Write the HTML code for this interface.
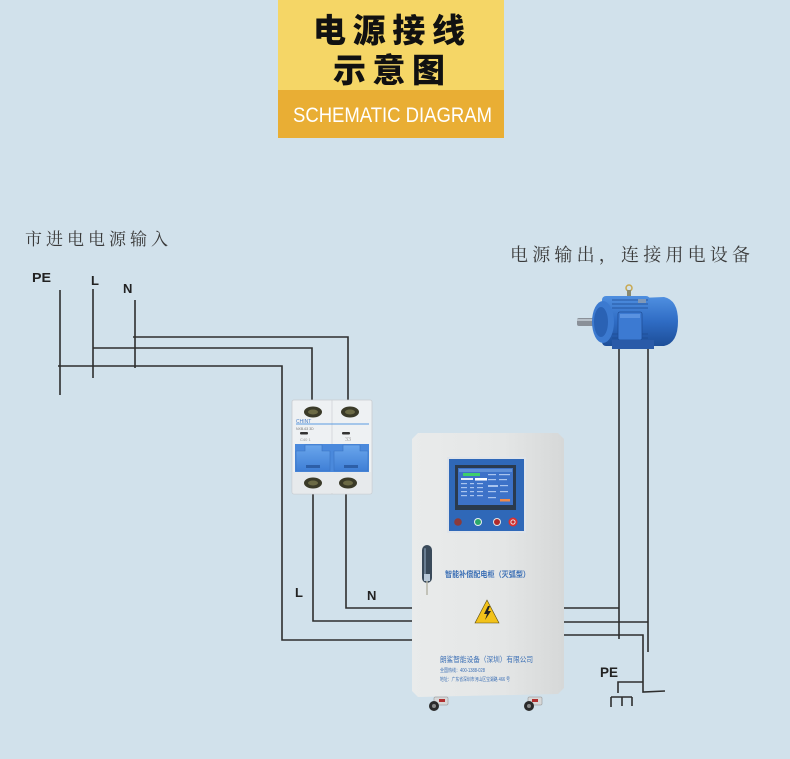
<!DOCTYPE html>
<html><head><meta charset="utf-8"><style>
html,body{margin:0;padding:0;background:#d1e1eb;}
svg{display:block;}
.cn{font-family:"Liberation Sans","Noto Sans CJK SC",sans-serif;}
.sr{font-family:"Liberation Serif","Noto Serif CJK SC",serif;}
</style></head><body>
<svg width="790" height="759" viewBox="0 0 790 759" xmlns="http://www.w3.org/2000/svg">
<defs>
<linearGradient id="cab" x1="0" x2="1" y1="0" y2="0">
<stop offset="0" stop-color="#e9ebeb"/><stop offset="0.6" stop-color="#e4e6e6"/><stop offset="1" stop-color="#d6d8d8"/>
</linearGradient>
<linearGradient id="mot" x1="0" x2="0" y1="0" y2="1">
<stop offset="0" stop-color="#4f8fe0"/><stop offset="0.5" stop-color="#2f6cc4"/><stop offset="1" stop-color="#1d4e98"/>
</linearGradient>
<linearGradient id="brk" x1="0" x2="0" y1="0" y2="1">
<stop offset="0" stop-color="#6aa6ec"/><stop offset="1" stop-color="#3f7fd6"/>
</linearGradient>
</defs>
<rect width="790" height="759" fill="#d1e1eb"/>

<!-- title -->
<rect x="278" y="0" width="226" height="90" fill="#f5d666"/>
<rect x="278" y="90" width="226" height="48" fill="#e9ae34"/>
<text class="cn" x="313" y="42" font-size="33" font-weight="900" fill="#111" textLength="152" lengthAdjust="spacing">电源接线</text>
<text class="cn" x="333" y="82" font-size="33" font-weight="900" fill="#111" textLength="112" lengthAdjust="spacing">示意图</text>
<text x="293" y="122" font-family="Liberation Sans, sans-serif" font-size="21" fill="#fff" textLength="199" lengthAdjust="spacingAndGlyphs">SCHEMATIC DIAGRAM</text>

<!-- labels -->
<text class="sr" x="25" y="245" font-size="17" fill="#3a3a3a" textLength="143" lengthAdjust="spacing">市进电电源输入</text>
<text class="sr" x="510" y="261" font-size="18" fill="#3a3a3a" textLength="240" lengthAdjust="spacing">电源输出，连接用电设备</text>
<g font-family="Liberation Sans, sans-serif" font-weight="bold" fill="#222">
<text x="32" y="282" font-size="13" textLength="19" lengthAdjust="spacingAndGlyphs">PE</text>
<text x="91" y="285" font-size="13">L</text>
<text x="123" y="293" font-size="13">N</text>
<text x="295" y="597" font-size="13">L</text>
<text x="367" y="600" font-size="13">N</text>
<text x="600" y="677" font-size="14" textLength="18" lengthAdjust="spacingAndGlyphs">PE</text>
</g>

<!-- wires -->
<g stroke="#2e2e2e" stroke-width="1.6" fill="none">
<line x1="60" y1="290" x2="60" y2="395"/>
<line x1="93" y1="289" x2="93" y2="378"/>
<line x1="135" y1="300" x2="135" y2="368"/>
<polyline points="133,337 348,337 348,402"/>
<polyline points="93,348 312,348 312,402"/>
<polyline points="58,366 282,366 282,640 412,640"/>
<polyline points="313,492 313,621 412,621"/>
<polyline points="346,492 346,608 412,608"/>
<polyline points="563,608 619,608"/>
<line x1="619" y1="348" x2="619" y2="639"/>
<polyline points="563,622 648,622"/>
<line x1="648" y1="348" x2="648" y2="652"/>
<polyline points="563,635 643,635 643,692 665,691"/>
<polyline points="643,682 618,682 618,693"/>
<line x1="611" y1="697" x2="632" y2="697"/>
<line x1="611" y1="697" x2="611" y2="707"/>
<line x1="622" y1="697" x2="622" y2="706"/>
<line x1="632" y1="697" x2="632" y2="706"/>
</g>

<!-- breaker -->
<g>
<rect x="292" y="400" width="80" height="94" rx="2" fill="#eef1f3" stroke="#c8ccd0" stroke-width="0.8"/>
<line x1="332" y1="400" x2="332" y2="494" stroke="#cfd3d6" stroke-width="0.8"/>
<ellipse cx="313" cy="412" rx="9" ry="5.5" fill="#3a3a28"/>
<ellipse cx="313" cy="412" rx="5" ry="2.5" fill="#6b6a45"/>
<ellipse cx="350" cy="412" rx="9" ry="5.5" fill="#3a3a28"/>
<ellipse cx="350" cy="412" rx="5" ry="2.5" fill="#6b6a45"/>
<line x1="296" y1="424" x2="369" y2="424" stroke="#5b9ae0" stroke-width="1"/>
<text x="296" y="423" font-family="Liberation Sans, sans-serif" font-size="5" fill="#4a7fc8">CHINT</text>
<text x="296" y="430" font-family="Liberation Sans, sans-serif" font-size="3.5" fill="#777">NXB-63  3D</text>
<rect x="300" y="432" width="8" height="2.5" rx="1" fill="#333"/>
<rect x="342" y="432" width="8" height="2.5" rx="1" fill="#333"/>
<text x="300" y="441" font-family="Liberation Sans, sans-serif" font-size="4" fill="#999">C40  1</text>
<text x="345" y="441" font-family="Liberation Serif, serif" font-size="6" fill="#999">33</text>
<rect x="295" y="444" width="74" height="28" fill="#4a89dc"/>
<path d="M296 451 L305 451 L305 445 L322 445 L322 451 L330 451 L330 471 L296 471 Z" fill="url(#brk)" stroke="#3a72c0" stroke-width="0.6"/>
<path d="M334 451 L343 451 L343 445 L360 445 L360 451 L368 451 L368 471 L334 471 Z" fill="url(#brk)" stroke="#3a72c0" stroke-width="0.6"/>
<rect x="306" y="465" width="14" height="3" fill="#2d5fa8"/>
<rect x="344" y="465" width="14" height="3" fill="#2d5fa8"/>
<rect x="293" y="472" width="78" height="21" fill="#e7eaec"/>
<ellipse cx="313" cy="483" rx="9" ry="5.5" fill="#3a3a28"/>
<ellipse cx="313" cy="483" rx="5" ry="2.5" fill="#6b6a45"/>
<ellipse cx="348" cy="483" rx="9" ry="5.5" fill="#3a3a28"/>
<ellipse cx="348" cy="483" rx="5" ry="2.5" fill="#6b6a45"/>
</g>

<!-- cabinet -->
<g>
<path d="M418 433 L558 433 L564 439 L564 688 L558 694 L418 697 L412 691 L412 439 Z" fill="url(#cab)"/>
<rect x="447" y="457" width="79" height="76" fill="#dfe4ea"/>
<rect x="449" y="459" width="75" height="72" fill="#2f68b8"/>
<rect x="455" y="465" width="61" height="45" fill="#2a3a4e"/>
<rect x="458" y="468" width="55" height="37" fill="#3d72c8"/>
<rect x="459" y="469" width="53" height="3" fill="#5f90d8"/>
<rect x="463" y="473" width="17" height="3" fill="#3fcf6a"/>
<rect x="461" y="478" width="12" height="2" fill="#e8eef8"/>
<rect x="475" y="478" width="12" height="2.5" fill="#ffffff"/>
<g fill="#a9c4ee">
<rect x="461" y="483" width="6" height="1.2"/><rect x="470" y="483" width="4" height="1.2"/><rect x="477" y="483" width="6" height="1.2"/>
<rect x="461" y="487" width="6" height="1.2"/><rect x="470" y="487" width="4" height="1.2"/><rect x="477" y="487" width="6" height="1.2"/>
<rect x="461" y="491" width="6" height="1.2"/><rect x="470" y="491" width="4" height="1.2"/><rect x="477" y="491" width="6" height="1.2"/>
<rect x="461" y="495" width="6" height="1.2"/><rect x="470" y="495" width="4" height="1.2"/><rect x="477" y="495" width="6" height="1.2"/>
<rect x="488" y="474" width="8" height="1.2"/><rect x="499" y="474" width="11" height="1.2"/>
<rect x="488" y="479" width="8" height="1.2"/><rect x="499" y="479" width="8" height="1.2"/>
<rect x="488" y="485" width="10" height="2"/><rect x="500" y="485" width="8" height="1.2"/>
<rect x="488" y="491" width="8" height="1.2"/><rect x="500" y="491" width="8" height="1.2"/>
<rect x="488" y="497" width="8" height="1.2"/>
</g>
<rect x="500" y="499" width="10" height="2.5" fill="#f08a4a"/>
<circle cx="458" cy="522" r="3.8" fill="#8b3a3a"/>
<circle cx="478" cy="522" r="4" fill="#e8eef0"/><circle cx="478" cy="522" r="3" fill="#2aa86a"/>
<circle cx="497" cy="522" r="4" fill="#e0e4e8"/><circle cx="497" cy="522" r="3" fill="#b02a2a"/>
<circle cx="513" cy="522" r="4.5" fill="#d93030"/><circle cx="513" cy="522" r="2.6" fill="#e8e0e0"/><circle cx="513" cy="522" r="1.6" fill="#c82a2a"/>
<!-- handle -->
<rect x="422" y="545" width="10" height="38" rx="5" fill="#3a4a5a"/>
<rect x="424" y="548" width="2" height="28" rx="1" fill="#6a7e92"/>
<rect x="424" y="574" width="6" height="7" fill="#b8c8d8"/>
<line x1="427" y1="581" x2="427" y2="595" stroke="#b5b5a8" stroke-width="1.5"/>
<!-- texts -->
<text class="cn" x="445" y="577" font-size="8" font-weight="bold" fill="#3b6fb5" textLength="85" lengthAdjust="spacingAndGlyphs">智能补偿配电柜（灭弧型）</text>
<polygon points="487,600 475,623 499,623" fill="#f2c21a" stroke="#5a4a10" stroke-width="0.6"/>
<polygon points="488,606 484,614 487,614 485,620 491,611 488,611 490,606" fill="#222"/>
<text class="cn" x="440" y="662" font-size="7.5" fill="#3b6fb5" textLength="93" lengthAdjust="spacingAndGlyphs">朗鲨智能设备（深圳）有限公司</text>
<text class="cn" x="440" y="672" font-size="5" fill="#3b6fb5" textLength="45" lengthAdjust="spacingAndGlyphs">全国热线：400-1388-028</text>
<text class="cn" x="440" y="681" font-size="5" fill="#3b6fb5" textLength="70" lengthAdjust="spacingAndGlyphs">地址：广东省深圳市河山区宝湖路 466 号</text>
<!-- wheels -->
<rect x="434" y="697" width="14" height="8" rx="1" fill="#d8d8d8" stroke="#888" stroke-width="0.5"/>
<rect x="439" y="699" width="6" height="3" fill="#b03030"/>
<circle cx="434" cy="706" r="5" fill="#2a2a2a"/><circle cx="434" cy="706" r="2" fill="#888"/>
<rect x="528" y="697" width="14" height="8" rx="1" fill="#d8d8d8" stroke="#888" stroke-width="0.5"/>
<rect x="532" y="699" width="6" height="3" fill="#b03030"/>
<circle cx="529" cy="706" r="5" fill="#2a2a2a"/><circle cx="529" cy="706" r="2" fill="#888"/>
</g>

<!-- motor -->
<g>
<rect x="577" y="318" width="26" height="8" rx="2" fill="#8a9098"/>
<rect x="577" y="319" width="26" height="2" fill="#b8c0c8"/>
<path d="M640 298 L664 297 Q678 300 678 321 Q678 343 664 346 L640 346 Z" fill="url(#mot)"/>
<rect x="602" y="296" width="48" height="50" rx="4" fill="url(#mot)"/>
<g stroke="#1d4a90" stroke-width="0.8">
<line x1="612" y1="300" x2="648" y2="300"/><line x1="612" y1="304" x2="648" y2="304"/>
<line x1="612" y1="308" x2="648" y2="308"/><line x1="612" y1="334" x2="648" y2="334"/>
<line x1="612" y1="338" x2="648" y2="338"/>
</g>
<ellipse cx="603" cy="322" rx="11" ry="21" fill="#3c7ad0"/>
<ellipse cx="601" cy="322" rx="7" ry="15" fill="#2a62b4"/>
<rect x="618" y="312" width="24" height="28" rx="2" fill="#3c7ad2" stroke="#1e4e98" stroke-width="0.8"/>
<rect x="620" y="314" width="20" height="4" fill="#5a92e0"/>
<rect x="612" y="340" width="42" height="9" fill="#2a5aa8"/>
<circle cx="629" cy="288" r="3" fill="none" stroke="#c8a850" stroke-width="1.5"/>
<rect x="627" y="290" width="4" height="6" fill="#8a8a70"/>
<rect x="638" y="299" width="8" height="4" fill="#7f98b8"/>
</g>
</svg>
</body></html>
